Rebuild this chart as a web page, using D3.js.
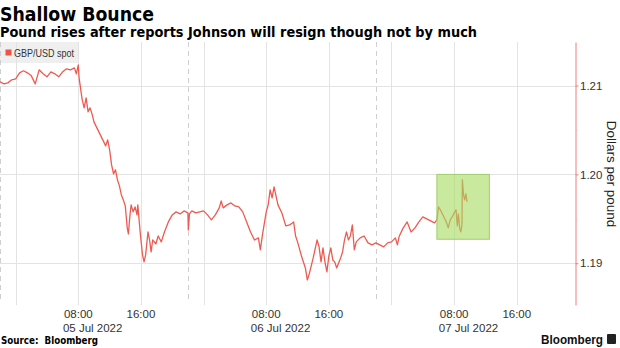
<!DOCTYPE html>
<html><head><meta charset="utf-8">
<script src="https://cdn.jsdelivr.net/npm/d3@7"></script>
<style>body{margin:0;background:#fff} svg{display:block}</style>
</head><body><svg id="c" width="620" height="348"></svg>
<script>
const title = "Shallow Bounce";
const subtitle = "Pound rises after reports Johnson will resign though not by much";
const seriesName = "GBP/USD spot";
const yAxisTitle = "Dollars per pound";
const sourceText = "Source:  Bloomberg";
const brandText = "Bloomberg";

// time of each observation, in hours after 4 Jul 2022 22:00
const seriesStart = new Date(2022, 6, 4, 22, 0);
const hours = [0,0.5,1,1.5,2,2.5,3,3.5,4,4.5,5,5.5,6,6.5,7,7.5,8,8.5,9,9.5,9.75,10,10.1,10.5,10.75,11,11.25,11.5,11.75,12,12.5,13,13.5,13.75,14,14.25,14.5,14.75,15,15.25,15.5,15.75,16,16.25,16.4,16.6,16.75,17,17.25,17.5,17.6,17.9,18.2,18.4,18.6,18.9,19.1,19.3,19.5,19.9,20.2,20.6,21,21.5,22,22.5,23,23.5,24,24.05,24.2,24.5,25,25.5,26,26.5,27,27.5,28,28.25,28.5,29,29.5,30,30.5,31,31.5,32,32.5,33,33.25,33.5,34,34.25,34.5,34.75,35,35.25,35.5,36,36.5,37,37.5,37.75,38,38.5,39,39.25,39.5,40,40.5,40.75,41,41.25,41.5,41.75,42,42.25,42.5,42.75,43,43.5,43.75,44,44.25,44.5,44.75,45,45.25,45.5,46,46.5,47,47.5,48,48.5,49,49.5,50,50.5,50.75,51,51.5,52,52.5,53,53.5,54,54.5,55,55.5,55.8,56,56.25,56.5,56.75,57,57.25,57.5,57.75,58,58.25,58.4,58.55,58.7,58.85,59,59.05,59.2,59.35,59.5,59.65];
const spot = [1.21042,1.21019,1.2103,1.21064,1.21075,1.21143,1.21166,1.21143,1.21109,1.21019,1.21177,1.21132,1.21098,1.21154,1.21132,1.21098,1.21154,1.21188,1.21177,1.21199,1.21132,1.21233,1.21087,1.20839,1.20749,1.20861,1.20704,1.20749,1.20681,1.20591,1.20501,1.20411,1.20321,1.20388,1.20276,1.20107,1.20006,1.20051,1.19938,1.19871,1.19769,1.19713,1.19645,1.19398,1.1933,1.19544,1.19657,1.19578,1.19634,1.19544,1.19657,1.19352,1.19094,1.19015,1.19094,1.19352,1.19262,1.19127,1.19262,1.19217,1.19307,1.1924,1.19352,1.19465,1.19544,1.19578,1.19555,1.19589,1.19566,1.19375,1.19555,1.19589,1.19566,1.19578,1.19589,1.19544,1.19488,1.19544,1.19623,1.19701,1.19623,1.19657,1.19679,1.19645,1.19634,1.19578,1.19465,1.19352,1.19262,1.19285,1.1915,1.19307,1.19578,1.19657,1.19826,1.19735,1.19859,1.19758,1.19657,1.19566,1.1942,1.19431,1.19465,1.19307,1.1924,1.19082,1.18947,1.18812,1.1888,1.1906,1.19262,1.19184,1.19015,1.19172,1.19015,1.18902,1.19082,1.19172,1.19037,1.19015,1.18947,1.1906,1.19127,1.19262,1.19352,1.19262,1.19307,1.19431,1.1915,1.1924,1.19285,1.19307,1.19229,1.19206,1.19229,1.19206,1.19184,1.19229,1.1924,1.19285,1.19206,1.19307,1.19398,1.19465,1.19352,1.19398,1.19465,1.19521,1.19499,1.19476,1.19454,1.19488,1.19634,1.196,1.19555,1.1951,1.19465,1.19398,1.19488,1.19521,1.19566,1.196,1.1942,1.19555,1.19398,1.19352,1.19431,1.19938,1.19769,1.19713,1.1978,1.1969];

const yTicks = [1.19, 1.20, 1.21];
const yMinorTicks = [1.195, 1.205];
const yDomain = [1.1853, 1.2149];
const xDomain = [new Date(2022, 6, 4, 22, 0), new Date(2022, 6, 7, 23, 30)];
const xLabelTimes = [new Date(2022,6,5,8), new Date(2022,6,5,16), new Date(2022,6,6,8), new Date(2022,6,6,16), new Date(2022,6,7,8), new Date(2022,6,7,16)];
const sessionBreaks = [new Date(2022,6,4,22), new Date(2022,6,5,22), new Date(2022,6,6,22)];
const highlightStart = new Date(2022, 6, 7, 5, 48);
const highlightEnd = new Date(2022, 6, 7, 12, 30);
const highlightLow = 1.1927;
const highlightHigh = 1.2000;

const data = hours.map((h, i) => ({ t: new Date(+seriesStart + h * 3600e3), v: spot[i] }));

const svg = d3.select("#c");
const L = 0, R = 575.5, T = 42, B = 305;
const x = d3.scaleTime().domain(xDomain).range([L, R]);
const y = d3.scaleLinear().domain(yDomain).range([B, T]);
const crisp = v => Math.round(v) + 0.5;
const SANS = "Liberation Sans, Arial, sans-serif";

// legend background
svg.append("rect").attr("x", 0).attr("y", 42).attr("width", 79).attr("height", 21).attr("fill", "#efefef");

// gridlines
const grid = svg.append("g");
d3.timeHours(xDomain[0], xDomain[1]).filter(d => d.getHours() % 8 === 0).forEach(d => {
  grid.append("line").attr("x1", crisp(x(d))).attr("x2", crisp(x(d))).attr("y1", T).attr("y2", B)
    .attr("stroke", "#e3e3e3").attr("stroke-width", 1);
});
sessionBreaks.forEach(d => {
  const xx = Math.max(0.5, crisp(x(d)));
  grid.append("line").attr("x1", xx).attr("x2", xx).attr("y1", T).attr("y2", B - 2)
    .attr("stroke", "#cfcfcf").attr("stroke-width", 1).attr("stroke-dasharray", "5,4");
});
yTicks.forEach(v => {
  grid.append("line").attr("x1", L).attr("x2", R).attr("y1", crisp(y(v))).attr("y2", crisp(y(v)))
    .attr("stroke", "#e3e3e3").attr("stroke-width", 1);
});

// legend content
svg.append("rect").attr("x", 5.5).attr("y", 49.5).attr("width", 6).attr("height", 6).attr("fill", "#f0524a");
svg.append("text").attr("x", 14).attr("y", 56.5).text(seriesName)
  .attr("font-family", SANS).attr("font-size", 10.5).attr("fill", "#333")
  .attr("textLength", 60).attr("lengthAdjust", "spacingAndGlyphs");

// line
const line = d3.line().x(d => x(d.t)).y(d => y(d.v));
svg.append("path").datum(data).attr("d", line).attr("fill", "none")
  .attr("stroke", "#ef5a50").attr("stroke-width", 1.3).attr("stroke-linejoin", "round");

// highlight box
svg.append("rect")
  .attr("x", x(highlightStart)).attr("y", y(highlightHigh))
  .attr("width", x(highlightEnd) - x(highlightStart)).attr("height", y(highlightLow) - y(highlightHigh))
  .attr("fill", "rgb(168,219,98)").attr("fill-opacity", 0.62)
  .attr("stroke", "#9fcf6e").attr("stroke-width", 1);

// right axis
const yAxis = d3.axisRight(y).tickValues(yTicks).tickSize(3).tickSizeOuter(0).tickFormat(d3.format(".2f"));
const ga = svg.append("g").attr("transform", `translate(${R},0)`).call(yAxis);
ga.select(".domain").attr("stroke", "#ec7d7a");
ga.selectAll(".tick line").attr("stroke", "#ec7d7a");
ga.selectAll(".tick text").attr("font-family", SANS).attr("font-size", 11.5)
  .attr("fill", "#333").attr("x", 4.5);
yMinorTicks.forEach(v => {
  ga.append("line").attr("x1", 0).attr("x2", 2).attr("y1", crisp(y(v))).attr("y2", crisp(y(v))).attr("stroke", "#f3c0bd");
});

svg.append("text").attr("transform", `translate(607,174) rotate(90)`).attr("text-anchor", "middle")
  .attr("font-family", SANS).attr("font-size", 13.5).attr("fill", "#222")
  .text(yAxisTitle);

// x labels
const fmtT = d3.timeFormat("%H:%M"), fmtD = d3.timeFormat("%d %b %Y");
xLabelTimes.forEach(d => {
  const t = svg.append("text").attr("x", x(d)).attr("y", 318).attr("text-anchor", "middle")
    .attr("font-family", SANS).attr("font-size", 11.5).attr("fill", "#333").text(fmtT(d));
  if (d.getHours() === 8) {
    const bb = t.node().getBBox();
    svg.append("text").attr("x", bb.x - 1).attr("y", 331.5)
      .attr("font-family", SANS).attr("font-size", 11.5).attr("fill", "#333").text(fmtD(d));
  }
});

// titles
svg.append("text").attr("x", 0).attr("y", 21).text(title)
  .attr("font-family", "DejaVu Sans, sans-serif").attr("font-weight", "bold").attr("font-size", 19.5).attr("fill", "#000")
  .attr("textLength", 154).attr("lengthAdjust", "spacingAndGlyphs");
svg.append("text").attr("x", 0).attr("y", 37).text(subtitle)
  .attr("font-family", "DejaVu Sans, sans-serif").attr("font-weight", "bold").attr("font-size", 14).attr("fill", "#000")
  .attr("textLength", 477).attr("lengthAdjust", "spacingAndGlyphs");

// footer
svg.append("text").attr("x", 1).attr("y", 344).text(sourceText)
  .attr("font-family", "DejaVu Sans, sans-serif").attr("font-weight", "bold").attr("font-size", 10.5).attr("fill", "#000")
  .attr("textLength", 97).attr("lengthAdjust", "spacingAndGlyphs").style("white-space", "pre");
svg.append("text").attr("x", 541).attr("y", 344).text(brandText)
  .attr("font-family", SANS).attr("font-weight", "bold").attr("font-size", 13.5).attr("fill", "#111")
  .attr("textLength", 62).attr("lengthAdjust", "spacingAndGlyphs");
svg.append("rect").attr("x", 607).attr("y", 334).attr("width", 9).attr("height", 10).attr("rx", 1).attr("fill", "#222");
</script></body></html>
